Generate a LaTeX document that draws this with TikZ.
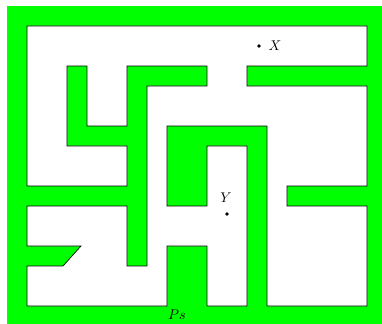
\documentclass[tikz,border=0pt]{standalone}
\begin{document}
\begin{tikzpicture}[x=0.5cm,y=0.5cm,
  wall/.style={fill=green},
  floor/.style={fill=white,draw=black,line width=0.5pt,line join=miter},
  pt/.style={circle,fill=black,inner sep=0pt,minimum size=2.6pt},
  lbl/.style={inner sep=1pt}]
\clip (-1.35,-0.85) rectangle (17.75,15.3);
\useasboundingbox (-1.35,-0.85) rectangle (17.75,15.3);
\fill[wall] (-1,-1) rectangle (18,15);
\draw[floor] (0,14) -- (17,14) -- (17,12) -- (11,12) -- (11,11) -- (17,11)
  -- (17,6) -- (13,6) -- (13,5) -- (17,5) -- (17,0) -- (12,0) -- (12,9)
  -- (7,9) -- (7,5) -- (9,5) -- (9,8) -- (11,8) -- (11,0) -- (9,0)
  -- (9,3) -- (7,3) -- (7,0) -- (0,0) -- (0,2) -- (1.8,2) -- (2.7,3)
  -- (0,3) -- (0,5) -- (5,5) -- (5,2) -- (6,2) -- (6,11) -- (9,11)
  -- (9,12) -- (5,12) -- (5,9) -- (3,9) -- (3,12) -- (2,12) -- (2,8)
  -- (5,8) -- (5,6) -- (0,6) -- cycle;
\node[pt] (x) at (11.6,13) {};
\node[lbl] (xl) at (12.4,13) {$X$};
\node[pt] (y) at (10,4.6) {};
\node[lbl] (yl) at (9.95,5.4) {$Y$};
\node[lbl] (ps) at (7.5,-0.45) {$Ps$};
\end{tikzpicture}
\end{document}
